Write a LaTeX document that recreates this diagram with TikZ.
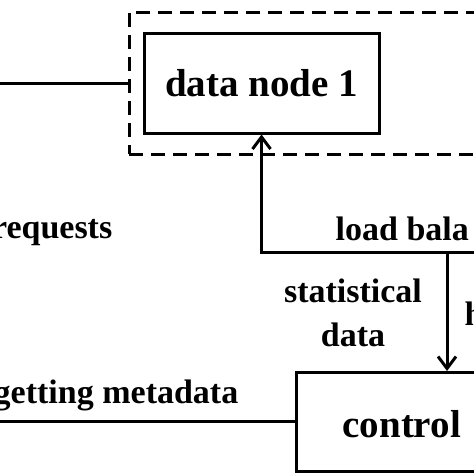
\documentclass[tikz,border=0pt]{standalone}
\usepackage{fontspec}
\setmainfont{Liberation Serif}
\usetikzlibrary{arrows.meta}
\begin{document}
\begin{tikzpicture}[x=1pt, y=-1pt,
  mainbox/.style={draw, line width=3pt, font=\fontsize{39}{46}\selectfont\bfseries, inner sep=0pt, text height=30.5pt, text depth=0pt},
  groupbox/.style={draw, line width=3pt, dash pattern=on 14pt off 8pt},
  lbltext/.style={font=\fontsize{34}{44.4}\selectfont\bfseries, inner sep=0pt},
  flowarrow/.style={line width=3pt, -{Straight Barb[length=12pt, width=18pt, line width=3pt]}},
  plainline/.style={line width=3pt}]
\useasboundingbox (0,0) rectangle (474,474);
\clip (0,0) rectangle (474,474);
\fill[white] (0,0) rectangle (474,474);
% group (dashed) box
\node[groupbox, minimum width=391pt, minimum height=141.3pt] (grp) at (324.5,83.35) {};
% data node 1
\node[mainbox, minimum width=235pt, minimum height=100pt, text height=26.6pt] (dn) at (261.5,83) {data node 1};
% control node
\node[mainbox, minimum width=302pt, minimum height=98.5pt, text width=209pt, align=left] (ctrl) at (447,421.75) {control};
% free ends
\coordinate (L1) at (-5,83.35);
\coordinate (L2) at (-5,421.75);
\coordinate (busR) at (490,252.7);
\coordinate (tap) at (447,252.7);
% connectors
\draw[plainline] (L1) -- (grp.west);
\draw[plainline] (L2) -- (ctrl.west);
\draw[flowarrow] (busR) -| (dn.south);
\draw[flowarrow] (tap) -- (ctrl.north);
% labels
\node[lbltext, anchor=base east] (lreq) at (112.5,238.3) {requests};
\node[lbltext, anchor=base west] (llb) at (335.5,240) {load bala};
\node[lbltext, anchor=base] (lstat) at (353,302.3) {\begin{tabular}[t]{@{}c@{}}statistical\\data\end{tabular}};
\node[lbltext, anchor=base west] (lh) at (464.5,325.7) {h};
\node[lbltext, anchor=base east] (lget) at (238.5,403.3) {getting metadata};
\end{tikzpicture}
\end{document}
